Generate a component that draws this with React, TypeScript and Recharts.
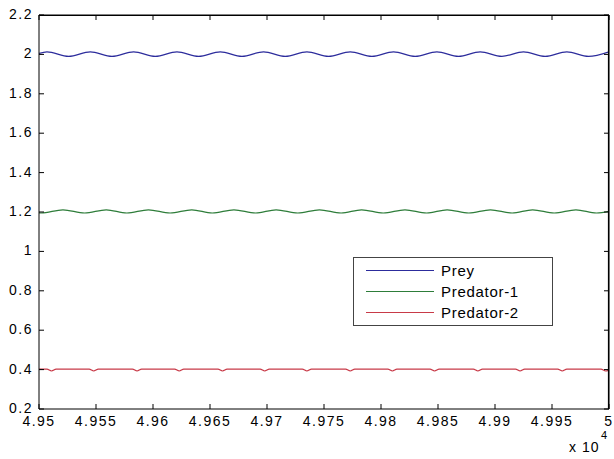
import { Line, LineChart, XAxis, YAxis } from 'recharts'

const xTicks = [4.95, 4.955, 4.96, 4.965, 4.97, 4.975, 4.98, 4.985, 4.99, 4.995, 5]
const yTicks = [0.2, 0.4, 0.6, 0.8, 1, 1.2, 1.4, 1.6, 1.8, 2, 2.2]
const seriesNames = ['Prey', 'Predator-1', 'Predator-2']
const seriesColors = ['#2c2c9c', '#2e7d3a', '#c83a48']

// time (x10^4) and value, read at peaks / troughs of each wave
const preyT = [4.95, 4.9507, 4.9526, 4.9545, 4.9564, 4.9583, 4.9602, 4.9621, 4.964, 4.9659, 4.9678, 4.9697, 4.9716, 4.9735, 4.9754, 4.9773, 4.9792, 4.9811, 4.983, 4.9849, 4.9868, 4.9887, 4.9906, 4.9925, 4.9944, 4.9963, 4.9982, 5]
const preyV = [2.005, 2.013, 1.99, 2.013, 1.99, 2.013, 1.99, 2.013, 1.99, 2.013, 1.99, 2.013, 1.99, 2.013, 1.99, 2.013, 1.99, 2.013, 1.99, 2.013, 1.99, 2.013, 1.99, 2.013, 1.99, 2.013, 1.99, 2.013]

const pred1T = [4.95, 4.9502, 4.9521, 4.954, 4.9559, 4.9577, 4.9596, 4.9615, 4.9634, 4.9652, 4.9671, 4.969, 4.9708, 4.9727, 4.9746, 4.9765, 4.9783, 4.9802, 4.9821, 4.984, 4.9858, 4.9877, 4.9896, 4.9915, 4.9933, 4.9952, 4.9971, 4.9989, 5]
const pred1V = [1.196, 1.195, 1.211, 1.195, 1.211, 1.195, 1.211, 1.195, 1.211, 1.195, 1.211, 1.195, 1.211, 1.195, 1.211, 1.195, 1.211, 1.195, 1.211, 1.195, 1.211, 1.195, 1.211, 1.195, 1.211, 1.195, 1.211, 1.195, 1.203]

const pred2T = [4.95, 4.9507, 4.9511, 4.9515, 4.9544, 4.9548, 4.9552, 4.9582, 4.9586, 4.959, 4.9619, 4.9623, 4.9627, 4.9657, 4.9661, 4.9665, 4.9694, 4.9698, 4.9702, 4.9731, 4.9735, 4.9739, 4.9769, 4.9773, 4.9777, 4.9806, 4.981, 4.9814, 4.9843, 4.9847, 4.9851, 4.9881, 4.9885, 4.9889, 4.9918, 4.9922, 4.9926, 4.9955, 4.9959, 4.9963, 4.9993, 4.9997, 5]
const pred2V = [0.402, 0.402, 0.393, 0.402, 0.402, 0.393, 0.402, 0.402, 0.393, 0.402, 0.402, 0.393, 0.402, 0.402, 0.393, 0.402, 0.402, 0.393, 0.402, 0.402, 0.393, 0.402, 0.402, 0.393, 0.402, 0.402, 0.393, 0.402, 0.402, 0.393, 0.402, 0.402, 0.393, 0.402, 0.402, 0.393, 0.402, 0.402, 0.393, 0.402, 0.402, 0.393, 0.398]

const toPoints = (ts: number[], vs: number[]) => ts.map((t, i) => ({ t, v: vs[i] }))
const series = [toPoints(preyT, preyV), toPoints(pred1T, pred1V), toPoints(pred2T, pred2V)]
// prey is hung on the mirrored top/right axes so those get drawn too (same domains)
const axisIds = [
  { x: 'top', y: 'right' },
  { x: 'bottom', y: 'left' },
  { x: 'bottom', y: 'left' }
]

const font = '"Liberation Sans", Arial, sans-serif'
const fmtX = (v: number) => String(+v.toFixed(3))
const fmtY = (v: number) => String(+v.toFixed(1))

function BottomTick({ x, y, payload }: any) {
  return (
    <g>
      <line x1={x} y1={y} x2={x} y2={y - 5} stroke="#000" />
      <text x={x} y={y + 17} textAnchor="middle" fontFamily={font} fontSize={14} letterSpacing={1.5} fill="#000">
        {fmtX(payload.value)}
      </text>
    </g>
  )
}

function TopTick({ x, y }: any) {
  return <line x1={x} y1={y} x2={x} y2={y + 5} stroke="#000" />
}

function LeftTick({ x, y, payload }: any) {
  return (
    <g>
      <line x1={x} y1={y} x2={x + 5} y2={y} stroke="#000" />
      <text x={x - 6} y={y + 4} textAnchor="end" fontFamily={font} fontSize={14} letterSpacing={1.5} fill="#000">
        {fmtY(payload.value)}
      </text>
    </g>
  )
}

function RightTick({ x, y }: any) {
  return <line x1={x} y1={y} x2={x - 5} y2={y} stroke="#000" />
}

function LegendBox() {
  return (
    <div
      style={{
        position: 'absolute',
        left: 353,
        top: 257,
        width: 198,
        height: 67,
        border: '1px solid #444',
        background: '#fff'
      }}
    >
      {seriesNames.map((name, i) => (
        <div key={name} style={{ position: 'absolute', left: 0, top: 2 + i * 21, height: 21, display: 'flex', alignItems: 'center' }}>
          <svg width={87} height={21}>
            <line x1={12} y1={10.5} x2={80} y2={10.5} stroke={seriesColors[i]} strokeWidth={1.2} />
          </svg>
          <span style={{ fontFamily: font, fontSize: 15, letterSpacing: 0.7, color: '#000', lineHeight: '21px' }}>{name}</span>
        </div>
      ))}
    </div>
  )
}

export default function App() {
  return (
    <div style={{ position: 'absolute', left: 0, top: 0, width: 614, height: 459, background: '#fff' }}>
      <LineChart width={614} height={459} margin={{ top: 14, right: 4, bottom: 0, left: 0 }}>
        <XAxis
          xAxisId="bottom"
          dataKey="t"
          type="number"
          domain={[4.95, 5]}
          ticks={xTicks}
          interval={0}
          allowDataOverflow
          height={50}
          tickSize={0}
          tickMargin={0}
          tickLine={false}
          stroke="#000"
          tick={<BottomTick />}
        />
        <XAxis
          xAxisId="top"
          orientation="top"
          dataKey="t"
          type="number"
          domain={[4.95, 5]}
          ticks={xTicks}
          interval={0}
          allowDataOverflow
          height={1}
          tickSize={0}
          tickMargin={0}
          tickLine={false}
          stroke="#000"
          tick={<TopTick />}
        />
        <YAxis
          yAxisId="left"
          type="number"
          domain={[0.2, 2.2]}
          ticks={yTicks}
          interval={0}
          allowDataOverflow
          width={39}
          tickSize={0}
          tickMargin={0}
          tickLine={false}
          stroke="#000"
          tick={<LeftTick />}
        />
        <YAxis
          yAxisId="right"
          orientation="right"
          type="number"
          domain={[0.2, 2.2]}
          ticks={yTicks}
          interval={0}
          allowDataOverflow
          width={1}
          tickSize={0}
          tickMargin={0}
          tickLine={false}
          stroke="#000"
          tick={<RightTick />}
        />
        {series.map((pts, i) => (
          <Line
            key={seriesNames[i]}
            xAxisId={axisIds[i].x}
            yAxisId={axisIds[i].y}
            data={pts}
            dataKey="v"
            name={seriesNames[i]}
            type="monotone"
            stroke={seriesColors[i]}
            strokeWidth={1.2}
            dot={false}
            isAnimationActive={false}
          />
        ))}
      </LineChart>
      {/* closing top / right edges of the axes box */}
      <svg width={614} height={459} style={{ position: 'absolute', left: 0, top: 0, pointerEvents: 'none' }}>
        <path d="M39 15.5 H608.5 V409" fill="none" stroke="#000" strokeWidth={1.2} />
      </svg>
      <LegendBox />
      <div style={{ position: 'absolute', left: 569, top: 440, fontFamily: font, fontSize: 14, lineHeight: '14px', letterSpacing: 1 }}>x 10</div>
      <div style={{ position: 'absolute', left: 601, top: 430, fontFamily: font, fontSize: 11, lineHeight: '11px' }}>4</div>
    </div>
  )
}
